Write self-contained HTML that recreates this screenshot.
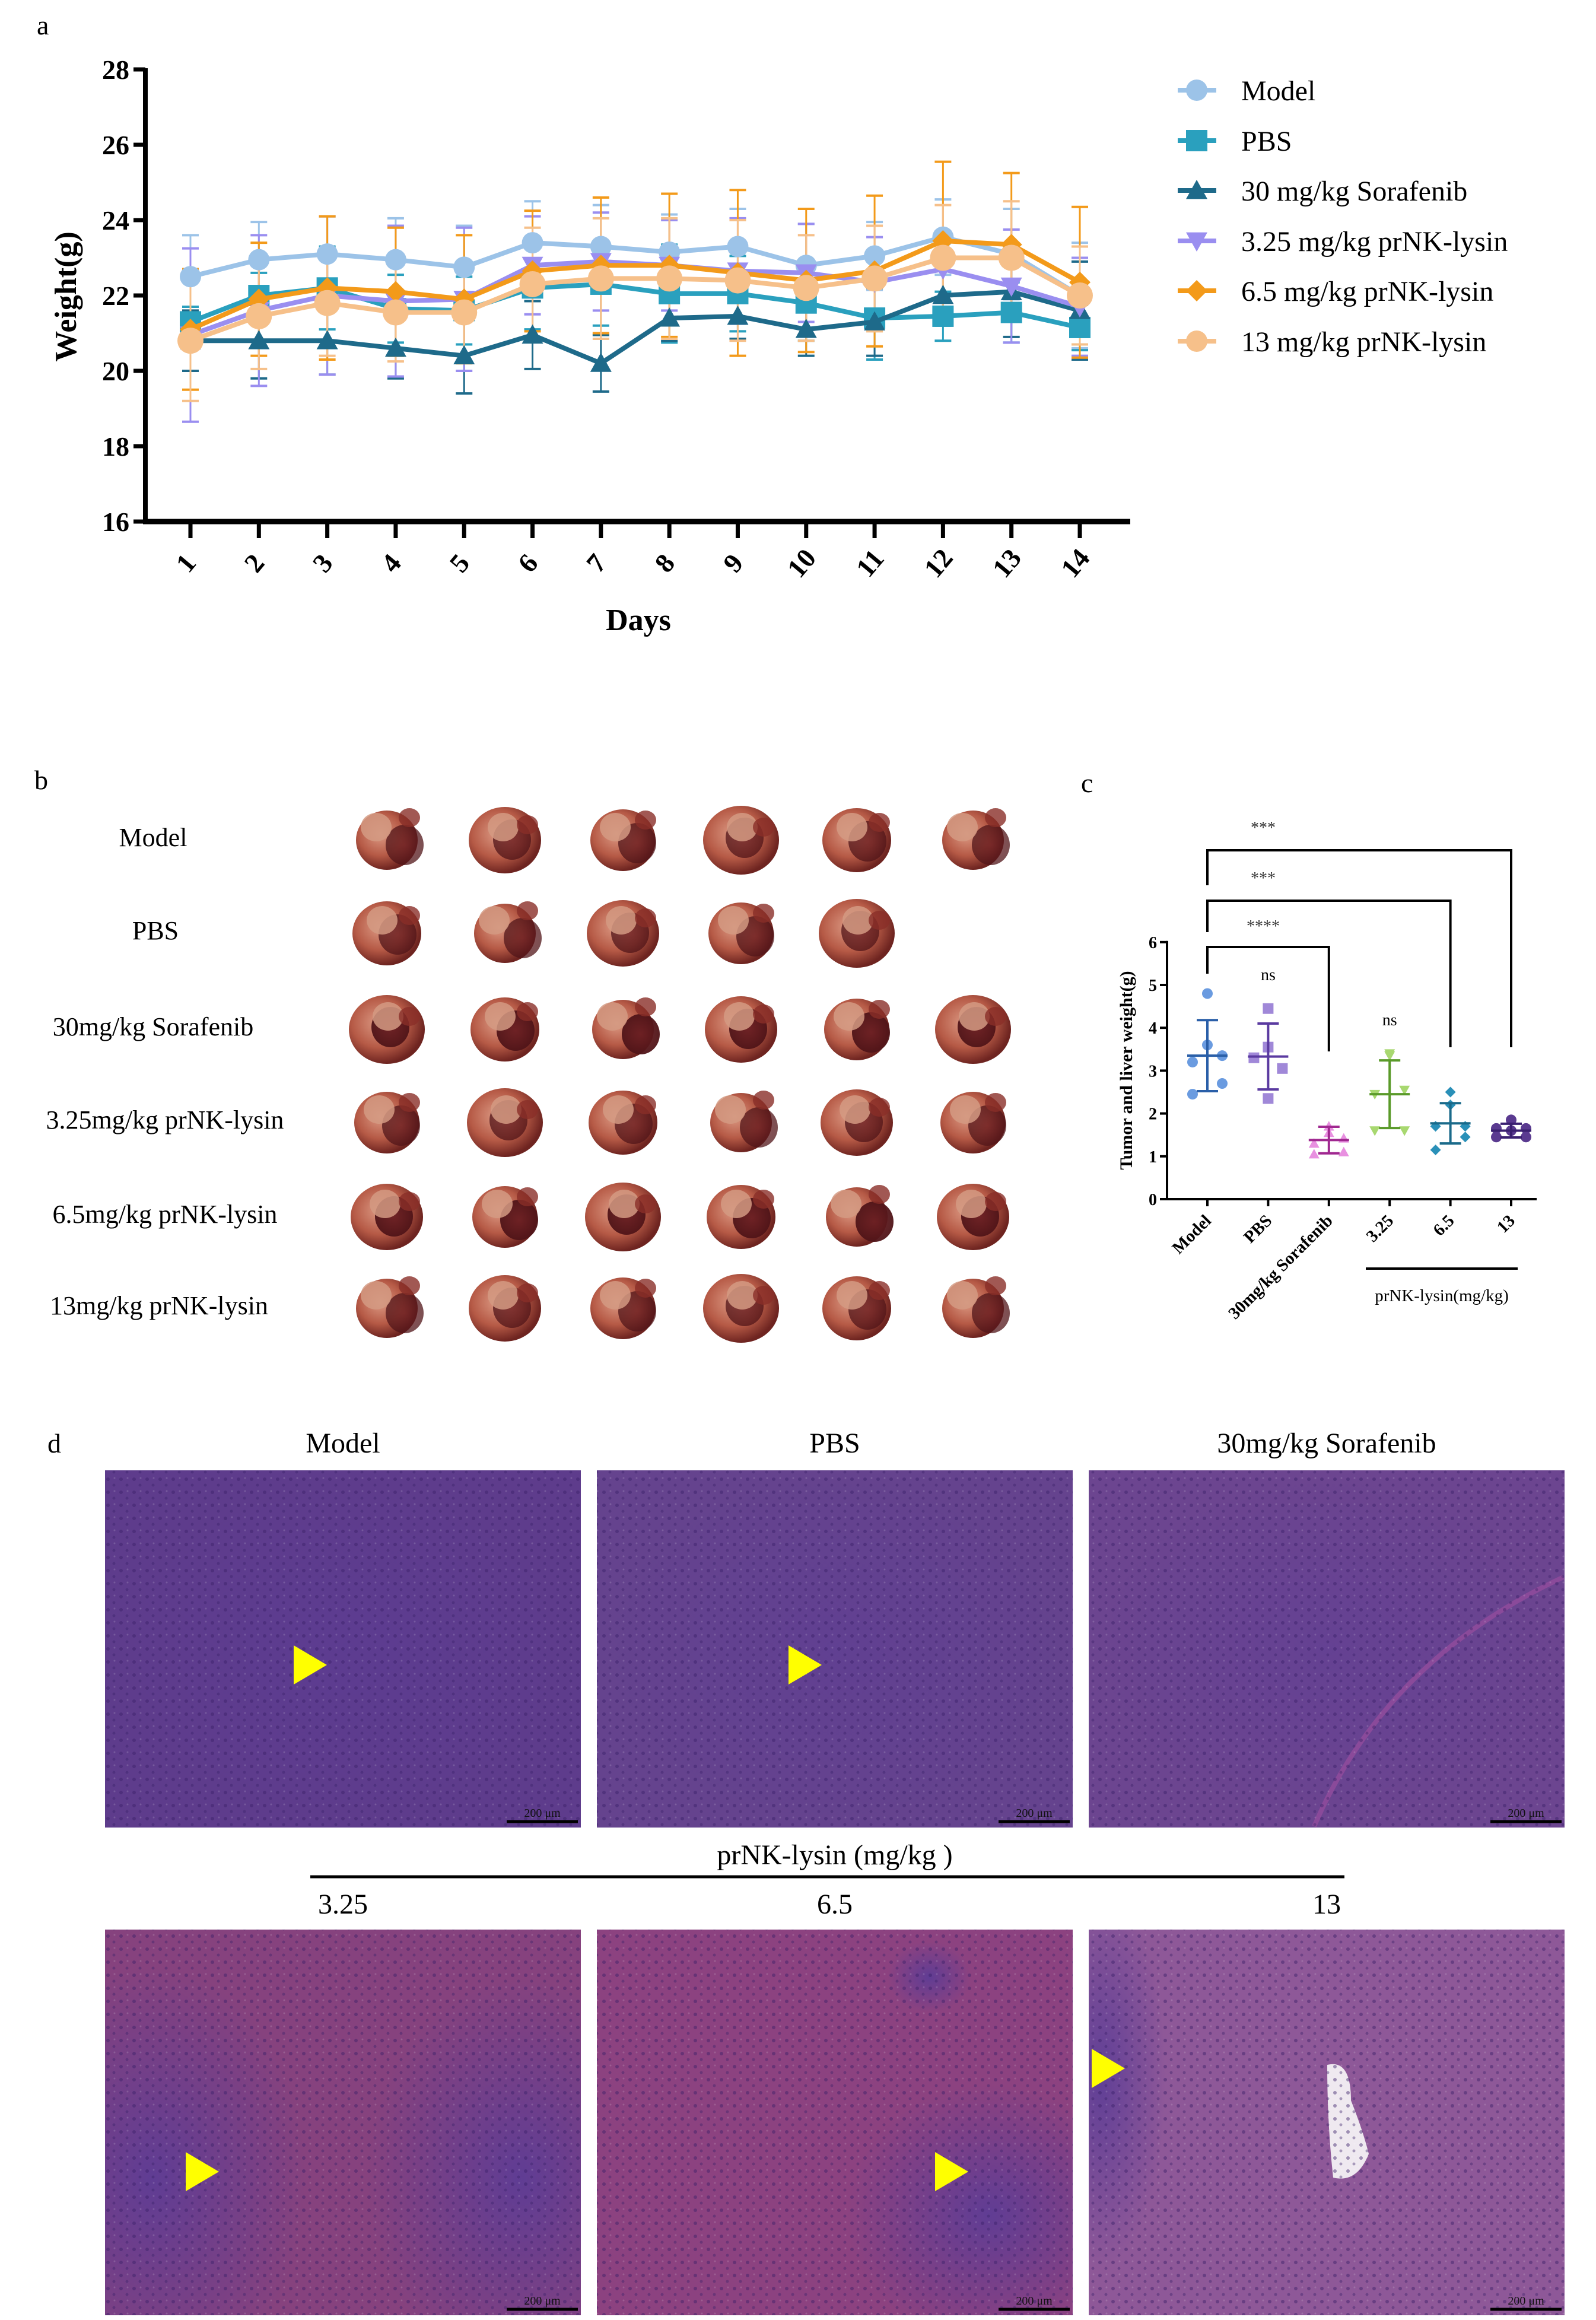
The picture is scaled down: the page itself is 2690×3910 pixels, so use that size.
<!DOCTYPE html>
<html><head><meta charset="utf-8"><style>
html,body{margin:0;padding:0;background:#fff}
svg{display:block}
text{font-family:"Liberation Serif",serif}
</style></head><body>
<svg id="fig" xmlns="http://www.w3.org/2000/svg" width="2690" height="3910" viewBox="0 0 2690 3910">
<defs>
<radialGradient id="tisA" cx="40%" cy="40%" r="60%"><stop offset="0" stop-color="#dc9a84"/><stop offset="0.6" stop-color="#b65a46"/><stop offset="1" stop-color="#6e2420"/></radialGradient>
<radialGradient id="tisB" cx="50%" cy="50%" r="60%"><stop offset="0" stop-color="#6a1e22"/><stop offset="1" stop-color="#4a1216"/></radialGradient>
<radialGradient id="soft" cx="50%" cy="50%" r="50%"><stop offset="0" stop-color="#5b3c96" stop-opacity="0.9"/><stop offset="1" stop-color="#5b3c96" stop-opacity="0"/></radialGradient>
<pattern id="cells" width="22" height="22" patternUnits="userSpaceOnUse"><circle cx="6" cy="7" r="3" fill="#3a2068" opacity="0.45"/><circle cx="16" cy="17" r="2.5" fill="#3a2068" opacity="0.4"/><circle cx="17" cy="5" r="1.5" fill="#fff" opacity="0.15"/></pattern>
</defs>

<text x="62" y="58" font-size="46">a</text>
<g id="chartA"></g>
<text x="1076" y="1062" font-size="52" font-weight="bold" text-anchor="middle">Days</text>
<text transform="translate(128,500) rotate(-90)" font-size="52" font-weight="bold" text-anchor="middle">Weight(g)</text>
<g id="legendA"></g>

<text x="58" y="1330" font-size="46">b</text>
<g id="panelB"></g>

<text x="1822" y="1335" font-size="46">c</text>
<g id="chartC"></g>

<text x="80" y="2448" font-size="46">d</text>
<g id="panelD"></g>
</svg>
<script>
var NS="http://www.w3.org/2000/svg";
function mk(p,t,a){var e=document.createElementNS(NS,t);for(var k in a)e.setAttribute(k,a[k]);p.appendChild(e);return e;}

/* ---------- Chart a data ---------- */
var days=[1,2,3,4,5,6,7,8,9,10,11,12,13,14];
var seriesNames=["Model","PBS","30 mg/kg Sorafenib","3.25 mg/kg prNK-lysin","6.5 mg/kg prNK-lysin","13 mg/kg prNK-lysin"];
var modelW=[22.5,22.95,23.1,22.95,22.75,23.4,23.3,23.15,23.3,22.8,23.05,23.55,23.1,22.0];
var pbsW=[21.3,22.0,22.2,21.65,21.6,22.2,22.3,22.05,22.05,21.8,21.4,21.45,21.55,21.15];
var sorW=[20.8,20.8,20.8,20.6,20.4,20.95,20.2,21.4,21.45,21.1,21.3,22.0,22.1,21.6];
var nk325W=[20.95,21.6,22.0,21.85,21.9,22.8,22.9,22.8,22.65,22.6,22.35,22.7,22.25,21.7];
var nk65W=[21.1,21.9,22.2,22.1,21.9,22.65,22.8,22.8,22.6,22.4,22.65,23.45,23.35,22.35];
var nk13W=[20.8,21.45,21.8,21.55,21.55,22.3,22.45,22.45,22.4,22.2,22.45,23.0,23.0,22.0];
var modelSD=[1.1,1.0,1.0,1.1,1.1,1.1,1.1,1.0,1.0,1.1,0.9,1.0,1.2,1.4];
var pbsSD=[0.4,0.6,1.1,0.9,0.9,1.1,1.1,1.3,1.0,1.0,1.1,0.65,0.8,0.6];
var sorSD=[0.8,1.0,0.9,0.8,1.0,0.9,0.75,0.6,0.6,0.7,0.9,0.8,1.2,1.3];
var nk325SD=[2.3,2.0,2.1,2.0,1.9,1.3,1.3,1.2,1.4,1.3,1.2,1.0,1.5,1.3];
var nk65SD=[1.6,1.5,1.9,1.7,1.7,1.6,1.8,1.9,2.2,1.9,2.0,2.1,1.9,2.0];
var nk13SD=[1.6,1.4,1.4,1.3,1.3,1.5,1.6,1.6,1.6,1.4,1.4,1.4,1.5,1.3];
var yTicksA=[16,18,20,22,24,26,28];

(function(){
 var g=document.getElementById("chartA");
 var X=function(d){return 321+(d-1)*(1820-321)/13;};
 var Y=function(v){return 879-(v-16)*(879-117)/12;};
 var cols=["#9cc3e8","#2aa0be","#1e6a8a","#9a8ef0","#f39a1a","#f6c08a"];
 var vals=[modelW,pbsW,sorW,nk325W,nk65W,nk13W];
 var sds=[modelSD,pbsSD,sorSD,nk325SD,nk65SD,nk13SD];
 var shapes=["circle","square","tri","tridown","diamond","circle"];
 var L=mk(g,"line",{x1:245,y1:Y(28)-2,x2:245,y2:Y(16)+4,stroke:"#000","stroke-width":8});
 
 
 var B=mk(g,"line",{x1:241,y1:Y(16),x2:1905,y2:Y(16),stroke:"#000","stroke-width":9});
 
 
 yTicksA.forEach(function(t){
  mk(g,"line",{x1:225,y1:Y(t),x2:245,y2:Y(t),stroke:"#000","stroke-width":7});
  var tx=mk(g,"text",{x:218,y:Y(t)+16,"font-size":46,"font-weight":"bold","text-anchor":"end"});tx.textContent=t;
  
  
 });
 days.forEach(function(d){
  mk(g,"line",{x1:X(d),y1:Y(16),x2:X(d),y2:Y(16)+28,stroke:"#000","stroke-width":7});
  var tx=mk(g,"text",{"font-size":46,"font-weight":"bold","text-anchor":"middle",transform:"translate("+(X(d)+4)+","+(Y(16)+80)+") rotate(-50)"});tx.textContent=d;
  
  
 });
 vals.forEach(function(v,s){
  var sg=mk(g,"g",{});
  
  
  v.forEach(function(val,i){
   var x=X(days[i]),y1=Y(val+sds[s][i]),y2=Y(val-sds[s][i]);
   mk(sg,"line",{x1:x,y1:y1,x2:x,y2:y2,stroke:cols[s],"stroke-width":3});
   mk(sg,"line",{x1:x-14,y1:y1,x2:x+14,y2:y1,stroke:cols[s],"stroke-width":4});
   mk(sg,"line",{x1:x-14,y1:y2,x2:x+14,y2:y2,stroke:cols[s],"stroke-width":4});
  });
 });
 vals.forEach(function(v,s){
  var pts=v.map(function(val,i){return X(days[i])+","+Y(val);}).join(" ");
  var pl=mk(g,"polyline",{points:pts,fill:"none",stroke:cols[s],"stroke-width":8});
  
  
  v.forEach(function(val,i){drawMark(g,shapes[s],X(days[i]),Y(val),cols[s],s==5?22:18);});
 });
 var lg=document.getElementById("legendA");
 var ly=[152,237,321,406,490,575];
 seriesNames.forEach(function(n,s){
  var e=mk(lg,"g",{});
  
  
  mk(e,"line",{x1:1985,y1:ly[s],x2:2050,y2:ly[s],stroke:cols[s],"stroke-width":8});
  drawMark(e,shapes[s],2017,ly[s],cols[s],18);
  var t=mk(e,"text",{x:2092,y:ly[s]+17,"font-size":48});t.textContent=n;
 });
})();
function drawMark(g,sh,x,y,c,r){
 var m;
 if(sh=="circle")m=mk(g,"circle",{cx:x,cy:y,r:r,fill:c});
 else if(sh=="square")m=mk(g,"rect",{x:x-r,y:y-r,width:2*r,height:2*r,fill:c});
 else if(sh=="tri")m=mk(g,"polygon",{points:(x)+","+(y-r)+" "+(x+r)+","+(y+r*0.8)+" "+(x-r)+","+(y+r*0.8),fill:c});
 else if(sh=="tridown")m=mk(g,"polygon",{points:(x)+","+(y+r)+" "+(x+r)+","+(y-r*0.8)+" "+(x-r)+","+(y-r*0.8),fill:c});
 else m=mk(g,"polygon",{points:x+","+(y-r)+" "+(x+r)+","+y+" "+x+","+(y+r)+" "+(x-r)+","+y,fill:c});
 return m;
}

/* ---------- Panel b ---------- */
var rowLabels=["Model","PBS","30mg/kg Sorafenib","3.25mg/kg prNK-lysin","6.5mg/kg prNK-lysin","13mg/kg prNK-lysin"];
var rowCounts=[6,5,6,6,6,6];
(function(){
 var g=document.getElementById("panelB");
 var rowY=[1412,1569,1731,1888,2047,2201];
 var colX=[660,859,1058,1257,1452,1648];
 var labX=[258,262,258,278,278,268];
 rowLabels.forEach(function(l,r){
  var t=mk(g,"text",{x:labX[r],y:rowY[r]+14,"font-size":44,"text-anchor":"middle"});t.textContent=l;
  
  
  for(var c=0;c<rowCounts[r];c++){
   var x=colX[c],y=rowY[r];
   var tg=mk(g,"g",{});
   
   
   var k=(r*7+c*3)%5;
   mk(tg,"ellipse",{cx:x-8,cy:y+4,rx:52+k*3,ry:50+k*2,fill:"url(#tisA)"});
   mk(tg,"ellipse",{cx:x+22-k*6,cy:y+12-k*3,rx:32,ry:34,fill:"url(#tisB)",opacity:r==2||r==4?0.95:0.75});
   mk(tg,"ellipse",{cx:x-26+k*5,cy:y-18,rx:26,ry:24,fill:"#d49a82",opacity:0.85});
   mk(tg,"ellipse",{cx:x+30,cy:y-34+k*4,rx:18,ry:16,fill:"#8a2e28",opacity:0.8});
  }
 });
})();

/* ---------- Chart c data ---------- */
var catC=["Model","PBS","30mg/kg Sorafenib","3.25","6.5","13"];
var ptsModel=[4.8,3.6,3.35,3.2,2.7,2.45];
var ptsPBS=[4.45,3.55,3.3,3.05,2.35];
var ptsSor=[1.7,1.55,1.42,1.3,1.1,1.05];
var pts325=[3.35,3.4,2.55,2.45,1.6,1.6];
var pts65=[2.5,2.2,1.7,1.7,1.45,1.15];
var pts13=[1.85,1.65,1.65,1.6,1.45,1.45];
var meanC=[3.35,3.33,1.38,2.45,1.77,1.6];
var sdC=[0.83,0.77,0.31,0.79,0.47,0.16];
var yTicksC=[0,1,2,3,4,5,6];
(function(){
 var g=document.getElementById("chartC");
 var X=function(i){return 2035+i*102.4;};
 var Y=function(v){return 2021-v*72.2;};
 var pts=[ptsModel,ptsPBS,ptsSor,pts325,pts65,pts13];
 var pc=["#6a9be0","#a088d8","#e890e0","#a8d870","#2a90b8","#5a3a90"];
 var bc=["#2a5fa8","#5a3aa0","#a02890","#5a9a2a","#1a6a8a","#3a2070"];
 var sh=["circle","square","tri","tridown","diamond","circle"];
 mk(g,"line",{x1:1967,y1:Y(6)-2,x2:1967,y2:Y(0)+2,stroke:"#000","stroke-width":4});
 mk(g,"line",{x1:1965,y1:Y(0),x2:2590,y2:Y(0),stroke:"#000","stroke-width":4});
 yTicksC.forEach(function(t){
  mk(g,"line",{x1:1955,y1:Y(t),x2:1967,y2:Y(t),stroke:"#000","stroke-width":4});
  var tx=mk(g,"text",{x:1950,y:Y(t)+10,"font-size":28,"font-weight":"bold","text-anchor":"end"});tx.textContent=t;
  
  
 });
 var yt=mk(g,"text",{transform:"translate(1908,1804) rotate(-90)","font-size":30,"font-weight":"bold","text-anchor":"middle"});yt.textContent="Tumor and liver weight(g)";
 
 
 catC.forEach(function(c,i){
  var x=X(i);
  mk(g,"line",{x1:x,y1:Y(0),x2:x,y2:Y(0)+12,stroke:"#000","stroke-width":4});
  var t=mk(g,"text",{transform:"translate("+(x+8)+","+(Y(0)+38)+") rotate(-45)","font-size":29,"font-weight":"bold","text-anchor":"end"});t.textContent=c;
  
  
  var n=pts[i].length;
  pts[i].forEach(function(v,j){
   var off=(n==6)?[0,0,25,-25,25,-25][j]:[0,0,-24,24,0][j];
   if(i==5)off=[0,-25,25,0,-25,25][j];
   var m=drawMark(g,sh[i],x+off,Y(v),pc[i],9);
   
   
  });
  var m1=Y(meanC[i]),hi=Y(meanC[i]+sdC[i]),lo=Y(meanC[i]-sdC[i]);
  var eb=mk(g,"g",{stroke:bc[i],"stroke-width":4});
  
  
  mk(eb,"line",{x1:x,y1:hi,x2:x,y2:lo});
  mk(eb,"line",{x1:x-34,y1:m1,x2:x+34,y2:m1});
  mk(eb,"line",{x1:x-18,y1:hi,x2:x+18,y2:hi});
  mk(eb,"line",{x1:x-18,y1:lo,x2:x+18,y2:lo});
 });
 var br=[[5,1433,1492,1765,"***",1394],[4,1518,1571,1765,"***",1479],[2,1596,1641,1772,"****",1560]];
 br.forEach(function(b){
  var p=mk(g,"polyline",{points:X(0)+","+b[2]+" "+X(0)+","+b[1]+" "+X(b[0])+","+b[1]+" "+X(b[0])+","+b[3],fill:"none",stroke:"#000","stroke-width":4});
  
  
  var t=mk(g,"text",{x:2129,y:b[5]+10,"font-size":28,"text-anchor":"middle",fill:"#333"});t.textContent=b[4];
 });
 var ns1=mk(g,"text",{x:X(1),y:1652,"font-size":28,"text-anchor":"middle"});ns1.textContent="ns";
 var ns2=mk(g,"text",{x:X(3),y:1728,"font-size":28,"text-anchor":"middle"});ns2.textContent="ns";
 mk(g,"line",{x1:2302,y1:2138,x2:2558,y2:2138,stroke:"#000","stroke-width":4});
 var gl=mk(g,"text",{x:2430,y:2193,"font-size":29,"text-anchor":"middle"});gl.textContent="prNK-lysin(mg/kg)";
 
 
})();

/* ---------- Panel d ---------- */
(function(){
 var g=document.getElementById("panelD");
 var defs=document.querySelector("defs");
 var colX=[177,1006,1835],w=802;
 var rows=[[2478,602],[3252,650]];
 var titles1=["Model","PBS","30mg/kg Sorafenib"],titles2=["3.25","6.5","13"];
 var base=[["#5e3c8c","#65438e","#6c4590"],["#86427e","#8c4280","#8e5898"]];
 for(var r=0;r<2;r++)for(var c=0;c<3;c++){
  var x=colX[c],y=rows[r][0],h=rows[r][1];
  var cp=mk(defs,"clipPath",{id:"cp"+r+c});
  mk(cp,"rect",{x:x,y:y,width:w,height:h});
  var p=mk(g,"g",{"clip-path":"url(#cp"+r+c+")"});
  
  
  mk(p,"rect",{x:x,y:y,width:w,height:h,fill:base[r][c]});
  if(r==1){
   if(c==0){mk(p,"ellipse",{cx:x+80,cy:y+420,rx:260,ry:360,fill:"url(#soft)"});mk(p,"ellipse",{cx:x+700,cy:y+420,rx:260,ry:340,fill:"url(#soft)"});}
   if(c==1){mk(p,"ellipse",{cx:x+660,cy:y+480,rx:240,ry:220,fill:"url(#soft)"});mk(p,"ellipse",{cx:x+560,cy:y+80,rx:70,ry:60,fill:"url(#soft)"});}
   if(c==2){mk(p,"ellipse",{cx:x+20,cy:y+250,rx:110,ry:320,fill:"url(#soft)"});mk(p,"path",{d:"M"+(x+402)+" "+(y+228)+" q40 -10 40 60 q20 50 30 90 q-20 50 -60 40 q-10 -90 -10 -190z",fill:"#efe9f0"});}
  } else {
   mk(p,"ellipse",{cx:x+w/2,cy:y+h/2,rx:w*0.5,ry:h*0.5,fill:"url(#soft)",opacity:0.5});
   if(c==2)mk(p,"path",{d:"M"+(x+380)+" "+(y+600)+" q120 -280 420 -420",stroke:"#8a4a9a","stroke-width":8,fill:"none"});
  }
  mk(p,"rect",{x:x,y:y,width:w,height:h,fill:"url(#cells)"});
  mk(p,"line",{x1:x+w-125,y1:y+h-10,x2:x+w-5,y2:y+h-10,stroke:"#000","stroke-width":5});
  var sb=mk(p,"text",{x:x+w-65,y:y+h-18,"font-size":20,"text-anchor":"middle",fill:"#111"});sb.textContent="200 μm";
  var tt=mk(g,"text",{x:x+w/2,y:(r==0?2448:3225),"font-size":48,"text-anchor":"middle"});tt.textContent=(r==0?titles1:titles2)[c];
  
  
 }
 var gt=mk(g,"text",{x:1407,y:3142,"font-size":48,"text-anchor":"middle"});gt.textContent="prNK-lysin (mg/kg )";
 
 
 mk(g,"line",{x1:523,y1:3163,x2:2266,y2:3163,stroke:"#000","stroke-width":5});
 var arrows=[[495,2806],[1329,2806],[313,3660],[1576,3660],[1840,3486]];
 arrows.forEach(function(a){
  var t=mk(g,"polygon",{points:a[0]+","+(a[1]-33)+" "+(a[0]+56)+","+a[1]+" "+a[0]+","+(a[1]+33),fill:"#ffff00"});
  
  
 });
})();
</script>
</body></html>
